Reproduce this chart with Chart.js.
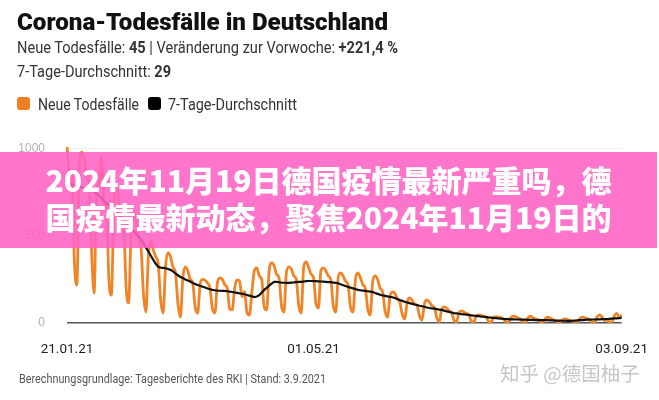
<!DOCTYPE html>
<html>
<head>
<meta charset="utf-8">
<script src="https://cdn.jsdelivr.net/npm/chart.js@4.4.1/dist/chart.umd.min.js"></script>
<style>
  html, body { margin: 0; padding: 0; background: #fff; }
  #wrap { position: relative; width: 659px; height: 400px; overflow: hidden; font-family: Roboto, sans-serif; }
  #chartBox { position: absolute; left: 0; top: 0; width: 659px; height: 400px; }
  .txt { position: absolute; white-space: nowrap; line-height: 1; transform-origin: 0 0; }
  #title { left: 17px; top: 10px; font-size: 24px; font-weight: 900; color: #111; }
  #sub1 { left: 17px; top: 40px; font-size: 16px; color: #333; }
  #sub2 { left: 17px; top: 63.5px; font-size: 16px; color: #333; }
  .lg { top: 96.5px; font-size: 16px; color: #333; }
  .sw { position: absolute; top: 97px; width: 13px; height: 13px; border-radius: 3px; }
  #footer { left: 19px; top: 373px; font-size: 12.5px; color: #555; }
  #banner { position: absolute; left: 0; top: 152px; width: 657px; height: 96px;
            background: rgba(255, 98, 196, 0.88); color: #fff; text-align: center;
            font-family: "Noto Sans CJK SC", sans-serif; font-weight: 900; font-size: 30px;
            line-height: 37px; padding-top: 9px; box-sizing: border-box; }
  #mark { position: absolute; left: 500px; top: 363px; font-size: 19.5px; color: #c6c6c6; line-height: 1;
          font-family: "Noto Sans CJK SC", sans-serif; white-space: nowrap; }
</style>
</head>
<body>
<div id="wrap">
  <div id="chartBox"><canvas id="myChart"></canvas></div>
  <div class="txt" id="title" data-w="371">Corona-Todesfälle in Deutschland</div>
  <div class="txt" id="sub1" data-w="381">Neue Todesfälle: <b>45</b> | Veränderung zur Vorwoche: <b>+221,4 %</b></div>
  <div class="txt" id="sub2" data-w="154">7-Tage-Durchschnitt: <b>29</b></div>
  <div class="sw" style="left:17px; background:#f07f24"></div>
  <div class="txt lg" style="left:38px" data-w="101">Neue Todesfälle</div>
  <div class="sw" style="left:148px; background:#000"></div>
  <div class="txt lg" style="left:168px" data-w="129">7-Tage-Durchschnitt</div>
  <div class="txt" id="footer" data-w="307">Berechnungsgrundlage: Tagesberichte des RKI | Stand: 3.9.2021</div>
  <div id="banner">2024年11月19日德国疫情最新严重吗，德<br>国疫情最新动态，聚焦2024年11月19日的</div>
  <div id="mark">知乎 @德国柚子</div>
</div>
<script>
// daily values from 21.01.21 to 03.09.21
const newDeaths = [
  1010, 860, 880, 350, 218,
  900, 980, 940, 840, 800, 400, 172,
  760, 800, 950, 690, 670, 250, 160,
  650, 800, 700, 600, 560, 200, 115,
  520, 640, 600, 480, 440, 170, 63,
  380, 470, 420, 380, 340, 130, 57,
  330, 402, 380, 320, 290, 110, 34,
  260, 322, 300, 250, 230, 90, 57,
  220, 250, 245, 230, 200, 80, 57,
  230, 259, 250, 220, 200, 80, 75,
  200, 247, 240, 150, 180, 60, 46,
  180, 300, 316, 270, 250, 90, 75,
  300, 345, 330, 280, 260, 100, 63,
  290, 322, 310, 270, 250, 100, 57,
  320, 350, 320, 280, 260, 110, 86,
  300, 316, 300, 270, 250, 100, 63,
  260, 287, 270, 240, 220, 90, 63,
  250, 287, 260, 220, 200, 80, 46,
  240, 270, 250, 200, 180, 70, 34,
  150, 178, 170, 140, 120, 50, 23,
  120, 144, 130, 110, 100, 40, 17,
  110, 132, 120, 100, 90, 30, 6,
  80, 92, 85, 70, 60, 15, 6,
  60, 70, 63, 55, 50, 10, 5,
  40, 46, 44, 38, 35, 8, 4,
  30, 36, 34, 30, 25, 6, 3,
  30, 40, 35, 28, 22, 5, 2,
  30, 40, 30, 24, 20, 4, 2,
  25, 34, 28, 20, 16, 3, 2,
  18, 23, 20, 15, 12, 2, 1,
  25, 34, 30, 24, 20, 5, 3,
  35, 46, 35, 14, 20, 5, 4,
  40, 55, 34, 45
];

const avg7 = [
  800, 798, 795, 790, 786, 780,
  778, 775, 770, 766, 760,
  752, 742, 730, 716, 700,
  688, 676, 664, 652, 640,
  625, 610, 594, 578, 560,
  545, 528, 512, 496, 480,
  458, 434, 410,
  386, 362, 340, 322,
  318, 316, 314, 310, 305,
  296, 284, 274, 264,
  258, 250, 244, 238, 230, 224, 218,
  214, 208, 204, 198, 194, 190,
  188, 186, 185, 184, 184, 182, 180, 178,
  176, 173, 170, 168, 165,
  161, 157, 153, 149,
  152, 160, 175, 190,
  202, 214, 226, 236,
  236, 234, 232, 231, 230, 230,
  232, 233, 235, 236, 236,
  238, 240, 241, 241, 240,
  240, 239, 238, 237, 236,
  235, 234, 232, 230, 228,
  222, 217, 212, 207,
  203, 199, 195, 190,
  188, 186, 184, 182, 180, 178,
  172, 167, 162, 158,
  156, 153, 150, 148,
  143, 137, 132, 127, 122,
  118, 114, 110, 106, 103,
  99, 96, 93, 89, 86,
  84, 82, 80, 77, 75,
  71, 67, 64, 60, 57,
  55, 53, 51, 50, 48, 46,
  44, 42, 41, 39, 37, 36, 34,
  32, 31, 29, 28, 26, 25, 23,
  22, 22, 21, 21, 20, 20, 19, 19, 19, 18, 18, 18, 17,
  17, 17, 16, 16, 16, 15, 15, 14, 14, 14, 13, 13, 12,
  12, 13, 14, 15, 16, 17, 18,
  19, 19, 20, 20, 21, 21, 22,
  22, 23, 24, 25, 26, 27, 28, 29
];

const xTickLabels = ['21.01.21', '01.05.21', '03.09.21'];
const yTickValues = [0, 500, 1000];

function pad(n) { return n < 10 ? '0' + n : '' + n; }

// squeeze the header/footer texts to the condensed widths of the original
function fitTexts() {
    document.querySelectorAll('[data-w]').forEach(function (el) {
        let w = el.getBoundingClientRect().width;
        el.style.transform = 'scaleX(' + (el.dataset.w / w) + ')';
    });
}

function createChart() {
    let labels = newDeaths.map(function (v, i) {
        let d = new Date(2021, 0, 21 + i);
        return pad(d.getDate()) + '.' + pad(d.getMonth() + 1) + '.' + String(d.getFullYear()).slice(2);
    });

    const ctx = document.getElementById('myChart').getContext('2d');
    new Chart(ctx, {
        type: 'line',
        data: {
            labels: labels,
            datasets: [{
                label: 'Neue Todesfälle',
                data: newDeaths,
                borderColor: '#f08427',
                borderWidth: 2.8,
                pointRadius: 0,
                cubicInterpolationMode: 'monotone',
                order: 2
            }, {
                label: '7-Tage-Durchschnitt',
                data: avg7,
                borderColor: '#111',
                borderWidth: 2.2,
                pointRadius: 0,
                tension: 0,
                order: 1
            }]
        },
        options: {
            responsive: false,
            animation: false,
            layout: { padding: { left: 0, right: 32, top: 140, bottom: 37 } },
            plugins: { legend: { display: false }, tooltip: { enabled: false } },
            scales: {
                x: {
                    grid: { display: false },
                    border: { display: false },
                    afterBuildTicks: function (scale) {
                        scale.ticks = scale.ticks.filter(t => xTickLabels.includes(labels[t.value]));
                    },
                    afterFit: function (scale) { scale.height = 40; },
                    ticks: {
                        autoSkip: false, maxRotation: 0, minRotation: 0, padding: 11,
                        color: '#222',
                        font: { family: 'Roboto, sans-serif', size: 13.5 }
                    }
                },
                y: {
                    min: 0,
                    max: 1050,
                    border: { display: false },
                    grid: {
                        drawTicks: false,
                        color: c => c.tick && c.tick.value === 0 ? '#555' : '#efefef',
                        lineWidth: c => c.tick && c.tick.value === 0 ? 1.5 : 1
                    },
                    afterBuildTicks: function (scale) {
                        scale.ticks = yTickValues.map(v => ({ value: v }));
                    },
                    afterFit: function (scale) { scale.width = 67; },
                    ticks: {
                        padding: 22,
                        color: '#b0b0b0',
                        font: { family: '"Liberation Sans", sans-serif', size: 12 },
                        callback: v => String(v)
                    }
                }
            }
        }
    });
}

document.getElementById('myChart').width = 659;
document.getElementById('myChart').height = 400;
document.addEventListener('DOMContentLoaded', function () {
    fitTexts();
    createChart();
});
</script>
</body>
</html>
